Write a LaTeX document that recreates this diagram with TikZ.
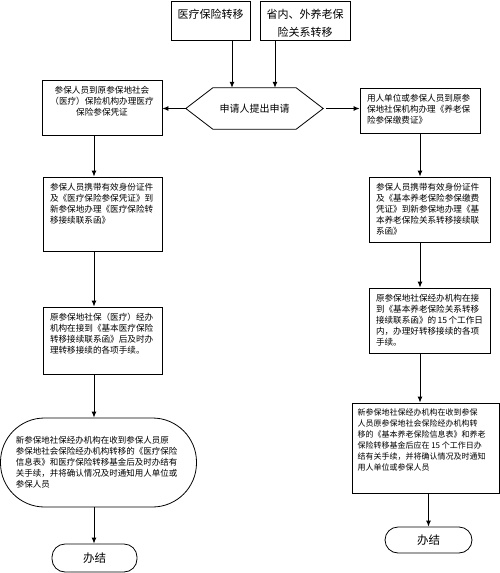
\documentclass[tikz,border=0pt]{standalone}
\usepackage{fontspec}
\setmainfont{Noto Sans CJK SC}
\usepackage{tikz}
\usetikzlibrary{arrows.meta}
\tikzset{>={Latex[width=5pt,length=6pt]}}
\tikzset{
  stepbox/.style={draw, line width=0.8pt, inner xsep=7pt, inner ysep=6pt,
    font=\fontsize{8.6pt}{11pt}\selectfont},
  topbox/.style={draw, line width=0.8pt, inner xsep=5pt, inner ysep=8pt,
    font=\fontsize{11pt}{18.5pt}\selectfont},
  endbox/.style={draw, line width=0.8pt, rounded corners=13pt,
    minimum width=85pt, minimum height=28pt,
    font=\fontsize{11.5pt}{14pt}\selectfont},
  flow/.style={->, line width=1pt}
}
\lineskiplimit=-20pt
\newcommand{\boxtext}[3]{\parbox[c][#2][t]{#1}{#3}}

\begin{document}
\begin{tikzpicture}

  \useasboundingbox (0pt,0pt) rectangle (500pt,-573pt);

  %% arrow columns
  \coordinate (lx) at ( 94pt,0pt);
  \coordinate (rx) at (420pt,0pt);
  \coordinate (ta) at (232pt,0pt);
  \coordinate (tb) at (275pt,0pt);

  %% top
  \node[topbox] (top1) at (210.5pt,-20.5pt)
  {\boxtext{69pt}{23pt}{\centering 医疗保险转移}};
  \node[topbox] (top2) at (305pt,-20.5pt)
  {\boxtext{80pt}{23pt}{\centering 省内、外养老保\\险关系转移}};

  %% application
  \node[minimum width=137pt, minimum height=41pt, inner sep=0pt,
  font=\fontsize{10pt}{12pt}\selectfont] (apply) at (254.5pt,-108.5pt)
  {申请人提出申请};
  \draw[line width=0.8pt] (apply.west) -- ([xshift=27pt]apply.north west)
  -- ([xshift=-27pt]apply.north east) -- (apply.east)
  -- ([xshift=-27pt]apply.south east) -- ([xshift=27pt]apply.south west)
  -- cycle;

  %% medical insurance
  \node[stepbox] (l1) at (102pt,-107.5pt)
  {\boxtext{106pt}{43pt}{\centering 参保人员到原参保地社会\\（医疗）保险机构办理医疗\\保险参保凭证}};
  \node[stepbox] (l2) at (102.5pt,-214pt)
  {\boxtext{105pt}{62pt}{\raggedright 参保人员携带有效身份证件\\及《医疗保险参保凭证》到\\新参保地办理《医疗保险转\\移接续联系函》}};
  \node[stepbox] (l3) at (102.5pt,-340.5pt)
  {\boxtext{105pt}{55pt}{\raggedright 原参保地社保（医疗）经办\\机构在接到《基本医疗保险\\转移接续联系函》后及时办\\理转移接续的各项手续。}};
  \node[stepbox, rounded corners=44pt, inner sep=0pt,
  minimum width=196pt, minimum height=89pt, font=\fontsize{8.5pt}{11pt}\selectfont]
  (l4) at (98.5pt,-462.5pt)
  {\parbox{165pt}{\raggedright 新参保地社保经办机构在收到参保人员原\\参保地社会保险经办机构转移的《医疗保险\\信息表》和医疗保险转移基金后及时办结有\\关手续，并将确认情况及时通知用人单位或\\参保人员}};
  \node[endbox] (lend) at (94.5pt,-558pt) {办结};

  %% pension insurance
  \node[stepbox] (r1) at (420pt,-110.5pt)
  {\boxtext{106pt}{33pt}{\raggedright 用人单位或参保人员到原参\\保地社保机构办理《养老保\\险参保缴费证》}};
  \node[stepbox] (r2) at (429.5pt,-209.5pt)
  {\boxtext{107pt}{53pt}{\raggedright 参保人员携带有效身份证件\\及《基本养老保险参保缴费\\凭证》到新参保地办理《基\\本养老保险关系转移接续联\\系函》}};
  \node[stepbox] (r3) at (429.5pt,-320.5pt)
  {\boxtext{107pt}{53pt}{\raggedright 原参保地社保经办机构在接\\到《基本养老保险关系转移\\接续联系函》的~15~个工作日\\内，办理好转移接续的各项\\手续。}};
  \node[stepbox, inner xsep=5.5pt, font=\fontsize{8pt}{11pt}\selectfont]
  (r4) at (425.5pt,-448pt)
  {\boxtext{136pt}{78pt}{\raggedright 新参保地社保经办机构在收到参保\\人员原参保地社会保险经办机构转\\移的《基本养老保险信息表》和养老\\保险转移基金后应在~15~个工作日办\\结有关手续，并将确认情况及时通知\\用人单位或参保人员}};
  \node[endbox, minimum width=87pt, minimum height=26pt] (rend) at (428.5pt,-540pt) {办结};

  %% connectors
  \draw[flow] (top1.south -| ta) -- (apply.north -| ta);
  \draw[flow] (top2.south -| tb) -- (apply.north -| tb);
  \draw[flow] (apply.west) -- (apply.west -| l1.east);
  \draw[flow] ([xshift=3pt]apply.east) -- (apply.east -| r1.west);

  \draw[flow] (l1.south -| lx) -- (l2.north -| lx);
  \draw[flow] (l2.south -| lx) -- (l3.north -| lx);
  \draw[flow] (l3.south -| lx) -- (l4.north -| lx);
  \draw[flow] (l4.south -| lx) -- (lend.north -| lx);

  \draw[flow] (r1.south -| rx) -- (r2.north -| rx);
  \draw[flow] (r2.south -| rx) -- (r3.north -| rx);
  \draw[flow] (r3.south -| rx) -- (r4.north -| rx);
  \draw[flow] (r4.south -| rend.north) -- (rend.north);

\end{tikzpicture}
\end{document}
